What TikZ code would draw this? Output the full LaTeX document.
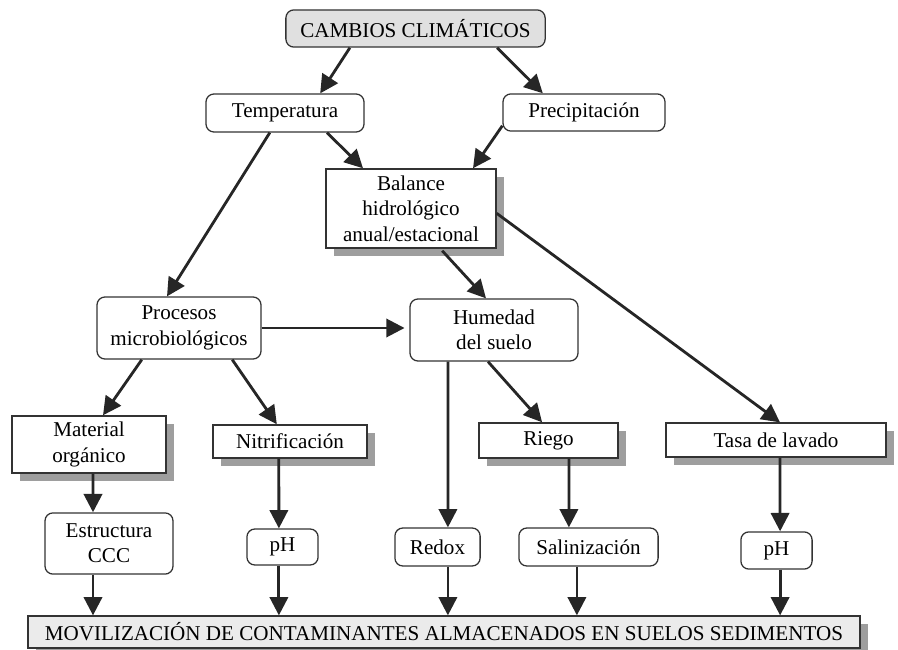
\documentclass[tikz,border=0pt]{standalone}
\usepackage{fontspec}
\setmainfont{Liberation Serif}
\usepackage{tikz}
\usetikzlibrary{arrows.meta, shadows}
\tikzstyle{roundbox} = [rectangle, rounded corners=0.2cm, draw=black!80, line width=0.9pt, fill=white, align=center, inner sep=0pt]
\tikzstyle{shadowbox} = [rectangle, draw=black!80, line width=0.9pt, fill=white, align=center, inner sep=0pt, drop shadow={shadow xshift=0.2cm, shadow yshift=-0.2cm, fill=black!38, opacity=1}]
\tikzstyle{arrow} = [line width=2pt, draw=black!85, -{Triangle[length=13pt,width=13pt]}]

\begin{document}
\begin{tikzpicture}[x=0.025cm, y=-0.025cm, font=\fontsize{15}{18}\selectfont]
  \useasboundingbox (0,0) rectangle (898,649);

  % top levels
  \node (top) [roundbox, fill=black!12, minimum width=6.48cm, minimum height=0.93cm] at (415.5,28.5) {CAMBIOS CLIMÁTICOS};
  \node (temp) [roundbox, minimum width=3.95cm, minimum height=0.95cm] at (285,113) {Temperatura};
  \node (prec) [roundbox, minimum width=4.05cm, minimum height=0.93cm] at (584,112.5) {Precipitación};
  \node (bal) [shadowbox, minimum width=4.25cm, minimum height=1.98cm] at (411,208.5) {Balance\\hidrológico\\anual/estacional};
  \node (proc) [roundbox, minimum width=4.1cm, minimum height=1.55cm] at (179,328) {Procesos\\microbiológicos};
  \node (hum) [roundbox, minimum width=4.2cm, minimum height=1.55cm] at (494,330) {Humedad\\del suelo};

  % middle row
  \node (mat) [shadowbox, minimum width=3.85cm, minimum height=1.43cm] at (89,444.5) {Material\\orgánico};
  \node (nit) [shadowbox, minimum width=3.85cm, minimum height=0.83cm] at (290,441.5) {Nitrificación};
  \node (riego) [shadowbox, minimum width=3.48cm, minimum height=0.88cm] at (548.5,440.5) {Riego};
  \node (tasa) [shadowbox, minimum width=5.5cm, minimum height=0.85cm] at (776,440) {Tasa de lavado};

  % lower row
  \node (est) [roundbox, minimum width=3.2cm, minimum height=1.53cm] at (109,543.5) {Estructura\\CCC};
  \node (phA) [roundbox, minimum width=1.78cm, minimum height=0.9cm] at (282.5,547) {pH};
  \node (redox) [roundbox, minimum width=2.13cm, minimum height=0.95cm] at (437.5,547) {Redox};
  \node (sal) [roundbox, minimum width=3.48cm, minimum height=0.95cm] at (588.5,547) {Salinización};
  \node (phB) [roundbox, minimum width=1.78cm, minimum height=0.93cm] at (776.5,550.5) {pH};

  \node (mov) [shadowbox, fill=black!8, minimum width=20.8cm, minimum height=0.8cm] at (444,632) {MOVILIZACIÓN DE CONTAMINANTES ALMACENADOS EN SUELOS SEDIMENTOS};

  \draw [arrow] ([xshift=-1.64cm]top.south) -- ([xshift=0.88cm]temp.north);
  \draw [arrow] ([xshift=2.04cm]top.south) -- ([xshift=-1.03cm]prec.north);
  \draw [arrow] ([xshift=1.05cm]temp.south) -- ([xshift=-1.2cm]bal.north);
  \draw [arrow] ([yshift=0.15cm]prec.south west) -- ([xshift=1.55cm]bal.north);
  \draw [arrow] ([xshift=-0.38cm]temp.south) -- ([xshift=-0.3cm]proc.north);
  \draw [arrow] ([xshift=0.78cm, yshift=-0.05cm]bal.south) -- ([xshift=-0.2cm]hum.north);
  \draw [arrow] ([yshift=-0.12cm]bal.east) -- ([xshift=0.1cm]tasa.north);
  \draw [arrow] (proc.east) -- ([xshift=-0.12cm]proc.east -| hum.west);
  \draw [arrow] ([xshift=-0.93cm]proc.south) -- ([xshift=0.35cm]mat.north);
  \draw [arrow] ([xshift=1.33cm]proc.south) -- ([xshift=-0.33cm]nit.north);
  \draw [arrow] ([xshift=-1.15cm]hum.south) -- ([xshift=0.26cm]redox.north);
  \draw [arrow] ([xshift=-0.15cm]hum.south) -- ([xshift=-0.16cm]riego.north);

  \draw [arrow] ([xshift=0.1cm]mat.south) -- ([xshift=-0.4cm]est.north);
  \draw [arrow] ([xshift=-0.28cm]nit.south) -- ([xshift=-0.09cm]phA.north);
  \draw [arrow] ([xshift=0.51cm]riego.south) -- ([xshift=-0.49cm]sal.north);
  \draw [arrow] ([xshift=0.1cm]tasa.south) -- ([xshift=0.09cm]phB.north);

  \draw [arrow] ([xshift=-0.4cm]est.south) -- ([xshift=-0.4cm]est.south |- mov.north);
  \draw [arrow] ([xshift=-0.09cm]phA.south) -- ([xshift=-0.09cm]phA.south |- mov.north);
  \draw [arrow] ([xshift=0.26cm]redox.south) -- ([xshift=0.26cm]redox.south |- mov.north);
  \draw [arrow] ([xshift=-0.29cm]sal.south) -- ([xshift=-0.29cm]sal.south |- mov.north);
  \draw [arrow] ([xshift=0.09cm]phB.south) -- ([xshift=0.09cm]phB.south |- mov.north);
\end{tikzpicture}
\end{document}
